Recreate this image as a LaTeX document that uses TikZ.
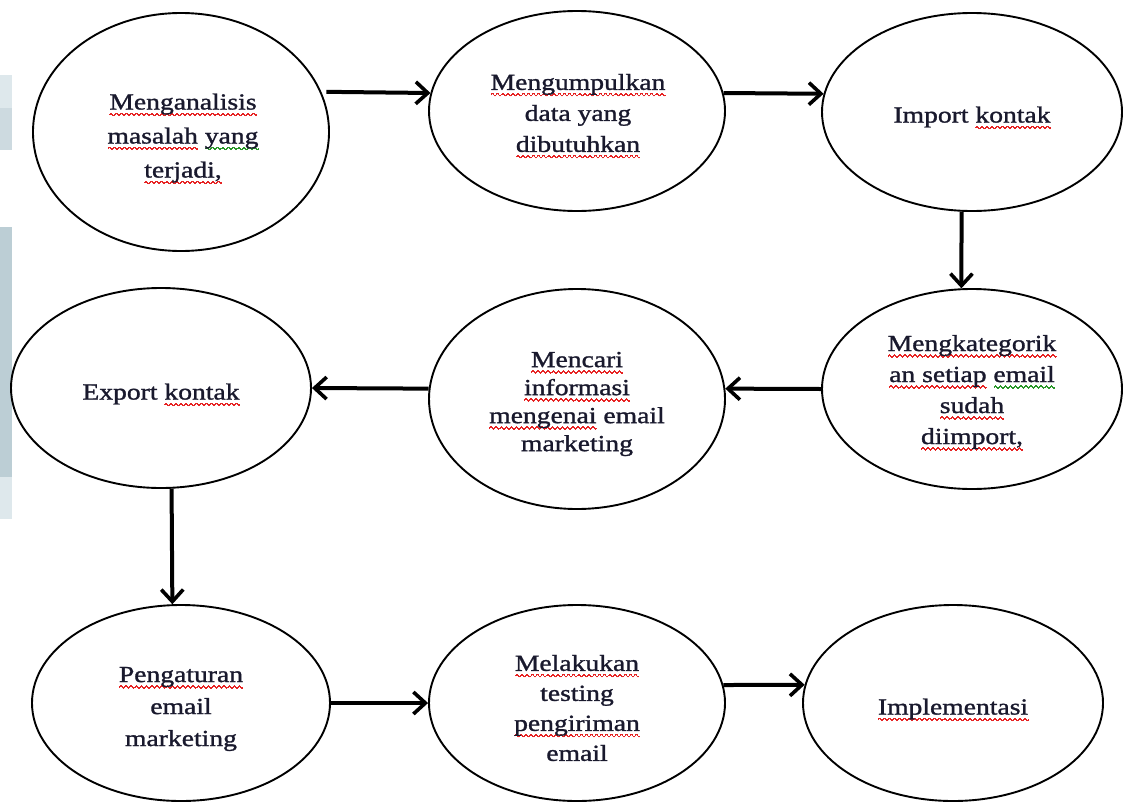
\documentclass[tikz,border=0pt]{standalone}
\usepackage{fontspec}
\setmainfont{Liberation Serif}[FakeStretch=1.2,FakeBold=1.3]
\usetikzlibrary{shapes.geometric,arrows.meta}
\definecolor{wred}{RGB}{230,35,35}
\definecolor{wgreen}{RGB}{40,150,40}
\definecolor{txtc}{RGB}{25,25,45}
\definecolor{stripc}{RGB}{188,206,213}
\definecolor{stripl}{RGB}{222,232,236}
\definecolor{stripm}{RGB}{205,218,224}
\newcommand\wseg{\rule[-5.6pt]{.5pt}{1.5pt}\rule[-5.0pt]{.5pt}{1.5pt}\rule[-4.6pt]{.5pt}{1.5pt}\rule[-4.6pt]{.5pt}{1.5pt}\rule[-5.0pt]{.5pt}{1.5pt}\rule[-5.6pt]{.5pt}{1.5pt}\rule[-6.2pt]{.5pt}{1.5pt}\rule[-6.6pt]{.5pt}{1.5pt}\rule[-6.6pt]{.5pt}{1.5pt}\rule[-6.2pt]{.5pt}{1.5pt}}
\newcommand\wv[2]{\leavevmode\setbox0\hbox{#2}\rlap{\smash{\hbox to\wd0{\color{#1}\xleaders\hbox{\wseg}\hfil}}}#2}
\newcommand\rw[1]{\wv{wred}{#1}}
\newcommand\gw[1]{\wv{wgreen}{#1}}
\begin{document}
\begin{tikzpicture}[x=1pt,y=-1pt,
  proc/.style={draw=black, line width=1.9pt, ellipse, inner sep=0pt},
  txt/.style={inner sep=0pt, align=center, text=txtc, font=\fontsize{23}{31}\selectfont},
  arr/.style={line width=4pt, -{Straight Barb[length=12pt,width=22pt,line width=3.6pt]}}]
\useasboundingbox (0,0) rectangle (1131,803);
\fill[stripl] (0,75) rectangle (12,108);
\fill[stripm] (0,108) rectangle (12,150);
\fill[stripc] (0,227) rectangle (12,477);
\fill[stripl] (0,477) rectangle (12,519);

\node[proc, minimum width=296pt, minimum height=238pt] (e1) at (181,132) {};
\node[proc, minimum width=296pt, minimum height=200pt] (e2) at (577,111) {};
\node[proc, minimum width=300pt, minimum height=198pt] (e3) at (972,112) {};
\node[proc, minimum width=300pt, minimum height=200pt] (e4) at (161,388) {};
\node[proc, minimum width=296pt, minimum height=220pt] (e5) at (577,399) {};
\node[proc, minimum width=300pt, minimum height=200pt] (e6) at (972,389) {};
\node[proc, minimum width=298pt, minimum height=196pt] (e7) at (181,703) {};
\node[proc, minimum width=296pt, minimum height=196pt] (e8) at (577,703) {};
\node[proc, minimum width=300pt, minimum height=196pt] (e9) at (953,703) {};

\node[txt, font=\fontsize{23}{34}\selectfont] (t1) at (183,138)
  {\rw{Menganalisis}\\ \rw{masalah} \gw{yang}\\ \rw{terjadi,}};
\node[txt] (t2) at (578,113)
  {\rw{Mengumpulkan}\\ data yang\\ \rw{dibutuhkan}};
\node[txt] (t3) at (972,117) {Import \rw{kontak}};
\node[txt] (t4) at (161,394) {Export \rw{kontak}};
\node[txt, font=\fontsize{23}{28}\selectfont] (t5) at (577,404)
  {\rw{Mencari}\\ \rw{informasi}\\ \rw{mengenai} email\\ marketing};
\node[txt] (t6) at (972,392)
  {\rw{Mengkategorik}\\ \rw{an setiap} \gw{email}\\ \rw{sudah}\\ \rw{diimport,}};
\node[txt, font=\fontsize{23}{32}\selectfont] (t7) at (181,709)
  {\rw{Pengaturan}\\ email\\ marketing};
\node[txt, font=\fontsize{23}{30}\selectfont] (t8) at (577,708)
  {\rw{Melakukan}\\ testing\\ \rw{pengiriman}\\ email};
\node[txt] (t9) at (953,709) {\rw{Implementasi}};

\draw[arr, shorten <=5pt] (e1.16) -- (e2.173);
\draw[arr] (e2.7) -- (e3.173);
\draw[arr] (e3.-96) -- (e6.96);
\draw[arr] (e6.west) -- (e5.4);
\draw[arr] (e5.176) -- (e4.east);
\draw[arr] (e4.-84) -- (e7.95);
\draw[arr] (e7.east) -- (e8.west);
\draw[arr] (e8.7) -- (e9.173);
\end{tikzpicture}
\end{document}
